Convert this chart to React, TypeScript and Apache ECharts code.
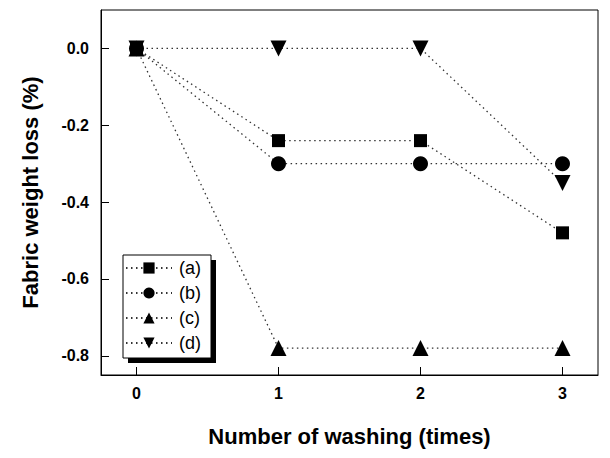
import React, { useEffect, useRef } from "react";
import * as echarts from "echarts";

const washes = [0, 1, 2, 3];
const seriesNames = ["(a)", "(b)", "(c)", "(d)"];
const valuesA = [0, -0.24, -0.24, -0.48];
const valuesB = [0, -0.3, -0.3, -0.3];
const valuesC = [0, -0.78, -0.78, -0.78];
const valuesD = [0, 0, 0, -0.35];
const yTicks = [0, -0.2, -0.4, -0.6, -0.8];
const xTicks = [0, 1, 2, 3];

export default function App() {
  const ref = useRef<HTMLDivElement>(null);
  useEffect(() => {
    const chart = echarts.init(ref.current!, null, { renderer: "svg" });
    const allValues = [valuesA, valuesB, valuesC, valuesD];
    const symbols = ["rect", "circle", "triangle", "triangle"];
    const sizes = [13, 15, 16, 16];
    const rotates = [0, 0, 0, 180];
    const font = "Liberation Sans, Arial, sans-serif";
    chart.setOption({
      animation: false,
      grid: {
        left: 101,
        top: 10,
        width: 497,
        height: 365,
        show: true,
        borderColor: "#000",
        borderWidth: 1,
        backgroundColor: "#fff",
      },
      xAxis: {
        type: "value",
        min: -0.25,
        max: 3.25,
        name: "Number of washing (times)",
        nameLocation: "middle",
        nameGap: 50,
        nameTextStyle: { fontFamily: font, fontWeight: "bold", fontSize: 22, color: "#000" },
        axisLine: { show: true, onZero: false, lineStyle: { color: "#000" } },
        axisTick: { show: true, inside: true, length: 8, customValues: xTicks, lineStyle: { color: "#000" } },
        axisLabel: {
          customValues: xTicks,
          fontFamily: font,
          fontWeight: "bold",
          fontSize: 16,
          color: "#000",
          margin: 10,
        },
        splitLine: { show: false },
      },
      yAxis: {
        type: "value",
        min: -0.85,
        max: 0.1,
        name: "Fabric weight loss (%)",
        nameLocation: "middle",
        nameGap: 60,
        nameTextStyle: { fontFamily: font, fontWeight: "bold", fontSize: 22, color: "#000" },
        axisLine: { show: true, onZero: false, lineStyle: { color: "#000" } },
        axisTick: { show: true, inside: true, length: 8, customValues: yTicks, lineStyle: { color: "#000" } },
        axisLabel: {
          customValues: yTicks,
          formatter: (v: number) => v.toFixed(1),
          fontFamily: font,
          fontWeight: "bold",
          fontSize: 16,
          color: "#000",
          margin: 12,
        },
        splitLine: { show: false },
      },
      legend: {
        orient: "vertical",
        left: 125,
        top: 259,
        z: 10,
        itemWidth: 46,
        itemHeight: 14,
        itemGap: 7,
        padding: 0,
        data: seriesNames,
        textStyle: { fontFamily: font, fontSize: 18, color: "#000", padding: [0, 0, 0, 2] },
      },
      graphic: [
        { type: "rect", z: 5, shape: { x: 128, y: 260, width: 88, height: 103 }, style: { fill: "#000" } },
        { type: "rect", z: 6, shape: { x: 123, y: 255, width: 88, height: 103 }, style: { fill: "#fff", stroke: "#000", lineWidth: 1 } },
      ],
      series: allValues.map((vals, i) => ({
        type: "line",
        name: seriesNames[i],
        data: washes.map((w, j) => [w, vals[j]]),
        symbol: symbols[i],
        symbolSize: sizes[i],
        symbolRotate: rotates[i],
        z: 3,
        lineStyle: { type: [1.5, 3.5], width: 1.3, color: "#333" },
        itemStyle: { color: "#000" },
      })),
    });
    return () => chart.dispose();
  }, []);
  return (
    <div
      ref={ref}
      style={{ position: "fixed", left: 0, top: 0, width: 610, height: 458, background: "#fff" }}
    />
  );
}
